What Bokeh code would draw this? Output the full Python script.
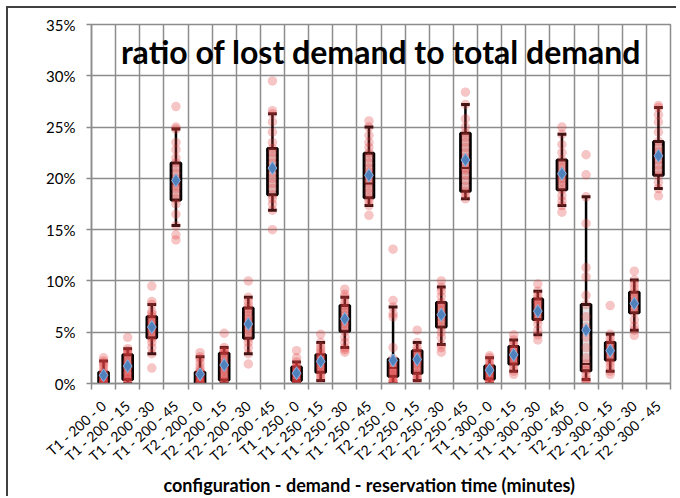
import math
from bokeh.plotting import figure
from bokeh.models import Range1d, FixedTicker, Label, Title
from bokeh.embed import file_html
from bokeh.resources import INLINE

categories = [
    "T1 - 200 - 0", "T1 - 200 - 15", "T1 - 200 - 30", "T1 - 200 - 45",
    "T2 - 200 - 0", "T2 - 200 - 15", "T2 - 200 - 30", "T2 - 200 - 45",
    "T1 - 250 - 0", "T1 - 250 - 15", "T1 - 250 - 30", "T1 - 250 - 45",
    "T2 - 250 - 0", "T2 - 250 - 15", "T2 - 250 - 30", "T2 - 250 - 45",
    "T1 - 300 - 0", "T1 - 300 - 15", "T1 - 300 - 30", "T1 - 300 - 45",
    "T2 - 300 - 0", "T2 - 300 - 15", "T2 - 300 - 30", "T2 - 300 - 45",
]

# box statistics (percent)
q1 = [0.1, 0.4, 4.45, 17.9, 0.05, 0.35, 4.4, 18.4, 0.3, 1.1, 5.1, 18.1,
      0.7, 1.0, 5.5, 18.75, 0.45, 1.9, 6.25, 18.9, 1.25, 2.3, 6.9, 20.3]
median = [0.5, 1.5, 5.4, 19.5, 0.6, 1.6, 5.7, 20.8, 0.9, 2.0, 6.2, 19.5,
          1.5, 2.2, 6.6, 21.0, 1.2, 2.7, 7.0, 20.3, 1.9, 3.1, 7.8, 22.1]
q3 = [1.1, 2.8, 6.5, 21.5, 1.1, 2.95, 7.35, 22.9, 1.6, 2.8, 7.6, 22.45,
      2.4, 3.2, 7.9, 24.4, 1.7, 3.6, 8.25, 21.8, 7.7, 4.0, 8.9, 23.6]
low = [0.0, 0.0, 2.9, 15.4, 0.0, 0.0, 2.9, 16.9, 0.0, 0.3, 3.5, 17.35,
       0.0, 0.3, 3.8, 18.0, 0.0, 1.2, 4.75, 17.35, 0.4, 1.2, 5.2, 19.0]
high = [2.2, 3.4, 7.7, 24.8, 2.6, 3.5, 8.4, 26.3, 2.1, 4.0, 8.4, 25.0,
        7.45, 4.0, 9.4, 27.2, 2.5, 4.25, 9.0, 24.3, 18.2, 4.8, 10.1, 26.9]
mean = [0.8, 1.7, 5.5, 19.8, 0.9, 1.8, 5.8, 21.0, 1.0, 2.15, 6.3, 20.3,
        2.25, 2.35, 6.7, 21.8, 1.3, 2.8, 7.05, 20.45, 5.2, 3.2, 7.8, 22.2]

# individual observations (percent)
points = [
    [0.0, 0.0, 0.1, 0.2, 0.3, 0.4, 0.5, 0.6, 0.8, 0.9, 1.0, 1.2, 1.5, 1.8, 2.0, 2.2, 2.5],
    [0.0, 0.2, 0.4, 0.5, 0.8, 1.0, 1.2, 1.5, 1.6, 1.8, 2.0, 2.2, 2.5, 2.8, 3.0, 3.2, 3.4, 4.5],
    [1.5, 2.9, 3.5, 4.0, 4.4, 4.6, 5.0, 5.2, 5.4, 5.5, 5.8, 6.0, 6.2, 6.5, 6.8, 7.0, 7.7, 8.0, 9.5],
    [14.0, 14.5, 15.4, 16.5, 17.5, 18.0, 18.5, 19.0, 19.3, 19.6, 20.0, 20.5, 21.0, 21.5, 22.0, 22.8, 23.5, 24.8, 25.0, 27.0],
    [0.0, 0.0, 0.1, 0.2, 0.3, 0.5, 0.6, 0.8, 1.0, 1.1, 1.3, 1.6, 2.0, 2.4, 2.6, 3.0],
    [0.0, 0.2, 0.4, 0.6, 0.9, 1.2, 1.4, 1.6, 1.8, 2.0, 2.3, 2.6, 2.9, 3.1, 3.3, 3.5, 4.9],
    [1.9, 2.9, 3.5, 4.0, 4.4, 4.8, 5.2, 5.5, 5.8, 6.0, 6.3, 6.6, 7.0, 7.3, 7.6, 8.0, 8.4, 10.0],
    [15.0, 16.9, 17.5, 18.0, 18.4, 19.0, 19.5, 20.0, 20.5, 21.0, 21.5, 22.0, 22.5, 22.9, 23.5, 24.5, 25.5, 26.3, 26.6, 29.5],
    [0.0, 0.1, 0.3, 0.4, 0.6, 0.8, 0.9, 1.0, 1.1, 1.3, 1.5, 1.6, 1.8, 2.1, 2.5, 3.2],
    [0.3, 0.6, 0.9, 1.1, 1.4, 1.6, 1.8, 2.0, 2.2, 2.4, 2.6, 2.8, 3.0, 3.3, 3.6, 4.0, 4.8],
    [3.05, 3.3, 3.5, 4.0, 4.5, 5.1, 5.5, 5.8, 6.0, 6.3, 6.6, 7.0, 7.3, 7.6, 7.9, 8.4, 8.7, 9.2],
    [16.4, 17.35, 17.8, 18.1, 18.6, 19.0, 19.5, 19.8, 20.2, 20.6, 21.0, 21.5, 22.0, 22.45, 23.0, 23.5, 24.2, 25.0, 25.6],
    [0.0, 0.1, 0.2, 0.4, 0.7, 0.9, 1.1, 1.3, 1.5, 1.8, 2.0, 2.2, 2.4, 3.5, 6.5, 6.8, 7.45, 8.1, 13.1],
    [0.3, 0.5, 0.8, 1.0, 1.3, 1.6, 1.9, 2.1, 2.3, 2.5, 2.7, 3.0, 3.2, 3.5, 4.0, 5.2],
    [3.05, 3.5, 3.8, 4.5, 5.0, 5.5, 5.9, 6.2, 6.5, 6.8, 7.1, 7.4, 7.7, 7.9, 8.5, 9.0, 9.4, 10.0],
    [18.0, 18.4, 18.75, 19.2, 19.8, 20.3, 20.8, 21.0, 21.5, 22.0, 22.5, 23.0, 23.5, 24.0, 24.4, 25.0, 25.8, 27.2, 28.4],
    [0.0, 0.1, 0.3, 0.45, 0.6, 0.8, 1.0, 1.1, 1.2, 1.4, 1.5, 1.7, 1.9, 2.2, 2.5, 2.7],
    [0.9, 1.2, 1.5, 1.9, 2.1, 2.3, 2.5, 2.7, 2.9, 3.1, 3.3, 3.6, 3.9, 4.25, 4.75],
    [4.25, 4.75, 5.2, 5.8, 6.25, 6.5, 6.8, 7.0, 7.2, 7.5, 7.8, 8.0, 8.25, 8.6, 9.0, 9.7],
    [16.7, 17.35, 17.8, 18.3, 18.9, 19.3, 19.7, 20.0, 20.3, 20.6, 21.0, 21.4, 21.8, 22.5, 23.3, 24.3, 25.0],
    [0.0, 0.2, 0.4, 0.8, 1.25, 1.5, 1.9, 2.5, 3.5, 4.5, 5.5, 6.5, 7.7, 8.6, 10.4, 11.3, 15.6, 18.2, 20.35, 22.3],
    [0.9, 1.2, 1.6, 2.0, 2.3, 2.6, 2.9, 3.1, 3.3, 3.5, 3.8, 4.0, 4.4, 4.8, 7.6],
    [4.7, 5.2, 5.6, 6.2, 6.9, 7.2, 7.5, 7.8, 8.0, 8.3, 8.6, 8.9, 9.3, 9.7, 10.1, 10.95],
    [18.3, 19.0, 19.6, 20.3, 20.8, 21.3, 21.8, 22.2, 22.6, 23.0, 23.6, 24.5, 25.5, 26.2, 26.9, 27.1],
]

y_ticks = [0, 5, 10, 15, 20, 25, 30, 35]
title_text = "ratio of lost demand to total demand"
x_title = "configuration - demand - reservation time (minutes)"

n = len(categories)
xs = list(range(n))
bounds = [i - 0.5 for i in range(n + 1)]
GRID = "#8c8c8c"
FONT = "Lato"

p = figure(width=670, height=490, x_range=Range1d(-0.5, n - 0.5), y_range=Range1d(0, 35),
           output_backend="svg", toolbar_location=None, tools="",
           min_border_left=83, min_border_right=8, min_border_top=16, min_border_bottom=115)
p.styles = {"margin-left": "6px", "margin-top": "6px",
            "border-top": "2px solid #404040", "border-left": "2px solid #404040"}

p.outline_line_color = GRID
p.outline_line_width = 1.5
p.background_fill_color = "white"
p.border_fill_color = "white"

p.xgrid.ticker = FixedTicker(ticks=bounds)
p.ygrid.ticker = FixedTicker(ticks=y_ticks)
for g in (p.xgrid, p.ygrid):
    g.grid_line_color = GRID
    g.grid_line_width = 1.5

xa = p.xaxis[0]
xa.ticker = FixedTicker(ticks=xs, minor_ticks=bounds)
xa.major_label_overrides = {i: c for i, c in zip(xs, categories)}
xa.major_label_orientation = 0.733
xa.major_tick_line_color = None
xa.major_tick_out = 0
xa.major_tick_in = 0
xa.minor_tick_line_color = GRID
xa.minor_tick_line_width = 1.5
xa.minor_tick_in = 0
xa.minor_tick_out = 6
xa.axis_line_color = GRID
xa.axis_line_width = 1.5
xa.major_label_text_font = FONT
xa.major_label_text_font_size = "14px"
xa.major_label_text_color = "black"
xa.major_label_standoff = 14

ya = p.yaxis[0]
ya.ticker = FixedTicker(ticks=y_ticks)
ya.major_label_overrides = {v: f"{v}%" for v in y_ticks}
ya.minor_tick_line_color = None
ya.major_tick_line_color = GRID
ya.major_tick_line_width = 1.5
ya.major_tick_in = 0
ya.major_tick_out = 5
ya.axis_line_color = GRID
ya.axis_line_width = 1.5
ya.major_label_text_font = FONT
ya.major_label_text_font_size = "15px"
ya.major_label_text_color = "black"
ya.major_label_standoff = 11

# whiskers
p.segment(x0=xs, y0=q3, x1=xs, y1=high, line_color="black", line_width=2.5)
p.segment(x0=xs, y0=low, x1=xs, y1=q1, line_color="black", line_width=2.5)
cw = 0.18
p.segment(x0=[x - cw for x in xs], y0=high, x1=[x + cw for x in xs], y1=high, line_color="black", line_width=3)
p.segment(x0=[x - cw for x in xs], y0=low, x1=[x + cw for x in xs], y1=low, line_color="black", line_width=3)

# boxes
bw = 0.4
p.vbar(x=xs, bottom=q1, top=q3, width=bw, fill_color="#d0d0d0", fill_alpha=0.55,
       line_color="black", line_width=3)
p.segment(x0=[x - bw / 2 for x in xs], y0=median, x1=[x + bw / 2 for x in xs], y1=median,
          line_color="black", line_width=2)

# points
px, py = [], []
for i, vals in enumerate(points):
    px.extend([i] * len(vals))
    py.extend(vals)
p.scatter(px, py, size=9.5, fill_color="#e04040", fill_alpha=0.3, line_color=None)

# means
p.scatter(xs, mean, marker="diamond", size=13, fill_color="#4f81bd", line_color="#8db3e2", line_width=1)

p.add_layout(Label(x=(n - 1) / 2, y=32.4, text=title_text, text_align="center", text_baseline="middle",
                   text_font=FONT, text_font_style="bold", text_font_size="32px", text_color="black"))

p.add_layout(Title(text=x_title, align="left", offset=72, standoff=0, vertical_align="top",
                   text_font=FONT, text_font_style="bold", text_font_size="18px",
                   text_color="black"), "below")

open("out.html", "w").write(file_html(p, INLINE))
